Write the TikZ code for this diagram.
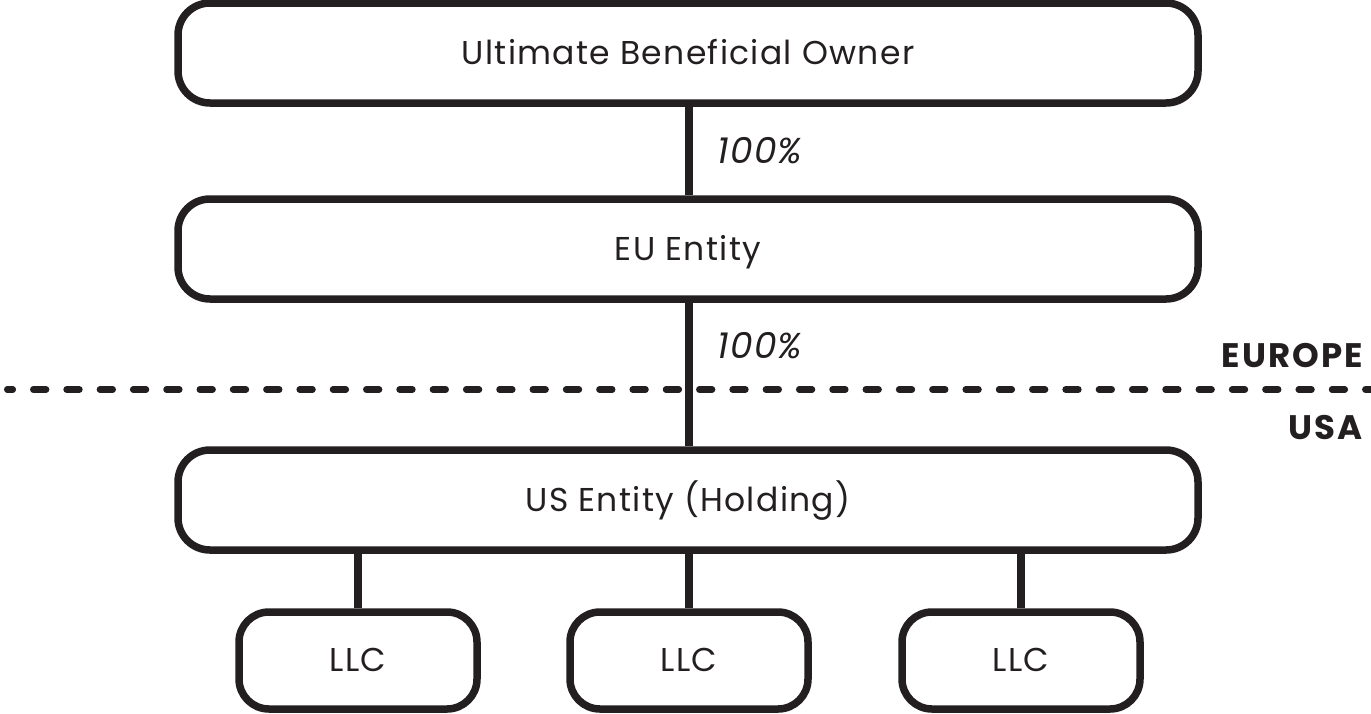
\documentclass[tikz,border=0pt]{standalone}
\usepackage{fontspec}
\setmainfont{Poppins}
\begin{document}
\definecolor{ink}{HTML}{231F20}
\begin{tikzpicture}[x=1pt,y=-1pt,
  every node/.style={text=ink, inner sep=0pt},
  box/.style={draw=ink, line width=7.5pt, rounded corners=32pt,
    minimum height=100pt, text height=22pt, text depth=0pt,
    font=\fontsize{33}{38}\selectfont\addfontfeature{LetterSpace=4}},
  widebox/.style={box, minimum width=1020pt},
  llcbox/.style={box, minimum width=238pt, minimum height=97pt, rounded corners=30pt},
  link/.style={draw=ink, line width=7.5pt},
  share/.style={font=\itshape\fontsize{36}{40}\selectfont\addfontfeature{LetterSpace=3}},
  region/.style={font=\bfseries\fontsize{34}{38}\selectfont\addfontfeature{LetterSpace=6}, anchor=east}]
\useasboundingbox (0,0) rectangle (1371,713);

% ownership chain
\node[widebox] (ubo) at (688,53) {Ultimate Beneficial Owner};
\node[widebox] (eu)  at (688,249) {EU Entity};
\node[widebox] (us)  at (688,500) {US Entity (Holding)};

% subsidiaries
\node[llcbox] (llc1) at (358,660.5) {LLC};
\node[llcbox] (llc2) at (689,660.5) {LLC};
\node[llcbox] (llc3) at (1021,660.5) {LLC};

% continental border
\coordinate (borderW) at (7.25,389.5);
\coordinate (borderE) at (1371,389.5);
\draw[ink, line width=6.5pt, line cap=round, dash pattern=on 12.8pt off 20.5pt, dash phase=7.25pt]
  (borderW) -- (borderE);

% ownership links
\draw[link] (ubo.south -| 689,0) -- (eu.north -| 689,0);
\draw[link] (eu.south -| 689,0) -- (us.north -| 689,0);
\draw[link] (us.south -| llc1.north) -- (llc1.north);
\draw[link] (us.south -| llc2.north) -- (llc2.north);
\draw[link] (us.south -| llc3.north) -- (llc3.north);

% share labels
\node[share] (s1) at (760,151) {100\%};
\node[share] (s2) at (760,346) {100\%};

% region labels
\node[region] (europe) at (1363,356) {EUROPE};
\node[region] (usa) at (1363,428) {USA};
\end{tikzpicture}
\end{document}
